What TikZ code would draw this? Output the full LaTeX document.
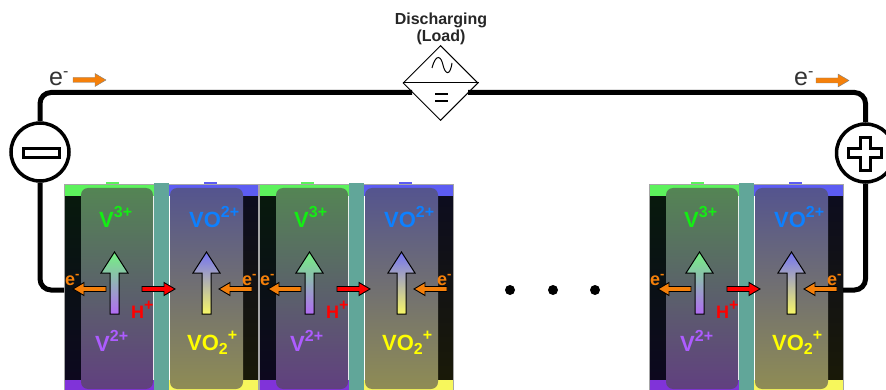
\documentclass[tikz,border=0pt]{standalone}
\usepackage{fontspec}
\setmainfont{Liberation Sans}
\usetikzlibrary{shapes.geometric}

\definecolor{eorange}{rgb}{0.96,0.5,0.04}
\definecolor{vthree}{rgb}{0.08,0.93,0.08}
\definecolor{vtwo}{rgb}{0.68,0.36,1}
\definecolor{voblue}{rgb}{0.05,0.5,1}
\definecolor{voyellow}{rgb}{1,1,0}
\definecolor{membrane}{rgb}{0.38,0.65,0.6}
\definecolor{stripgreen}{rgb}{0.36,0.95,0.36}
\definecolor{stripblue}{rgb}{0.36,0.36,0.95}
\definecolor{strippurple}{rgb}{0.5,0.2,0.85}
\definecolor{stripyellow}{rgb}{0.97,0.97,0.36}

\newcommand{\ionsup}[1]{\raisebox{0.42em}{\fontsize{16}{16}\selectfont #1}}
\newcommand{\flatarrow}[4]{\draw[#1, shift={(#2,#3)}, xscale=#4] (0,0) -- (-11,-6.5) -- (-11,-2.5) -- (-33,-2.5) -- (-33,2.5) -- (-11,2.5) -- (-11,6.5) -- cycle;}
\newcommand{\riserarrow}[2]{\shade[#1, shift={(#2,0)}] (0,252) -- (13.5,273) -- (4.5,273) -- (4.5,314) -- (-4.5,314) -- (-4.5,273) -- (-13.5,273) -- cycle;}

\begin{document}
\begin{tikzpicture}[x=1pt, y=-1pt,
    wire style/.style={draw=black, line width=5pt, rounded corners=11pt},
    pole style/.style={circle, draw=black, fill=white, line width=3.5pt, minimum size=58pt, inner sep=0pt},
    sign style/.style={draw=black, fill=white, line width=3pt},
    ion style/.style={anchor=base west, inner sep=0pt, font=\fontsize{22}{22}\selectfont\bfseries},
    charge style/.style={anchor=base west, inner sep=0pt, text=eorange, font=\fontsize{18}{18}\selectfont\bfseries},
    electron style/.style={draw=black, fill=eorange, line width=0.9pt},
    wire electron style/.style={draw=gray, fill=eorange, line width=0.4pt},
    proton style/.style={draw=black, fill=red, line width=0.9pt},
    riser style/.style={draw=black, line width=1pt}]

    \useasboundingbox (0,0) rectangle (886,390);
    \clip (0,0) rectangle (886,390);

    % stack of cells
    \foreach \cellx/\cellname in {0/a,195/b,585/c} {
    \begin{scope}[xshift=\cellx pt]
        \shade[top color={rgb,1:red,0.03;green,0.1;blue,0.05}, bottom color={rgb,1:red,0.05;green,0.03;blue,0.12}] (64,196) rectangle (100,380);
        \shade[top color={rgb,1:red,0.05;green,0.05;blue,0.12}, bottom color={rgb,1:red,0.1;green,0.1;blue,0.03}] (225,196) rectangle (258,380);

        \fill[stripgreen] (64,184) rectangle (160,196);
        \fill[stripgreen] (106,182) rectangle (119,186);
        \fill[stripblue] (165,184) rectangle (258,196);
        \fill[stripblue] (204,182) rectangle (217,186);
        \fill[strippurple] (64,380) rectangle (160,390);
        \fill[stripyellow] (165,380) rectangle (258,390);
        \draw[gray!70, line width=0.6pt] (64,390) -- (64,184) -- (258,184) -- (258,390);

        \shade[rounded corners=7pt, top color={rgb,1:red,0.33;green,0.52;blue,0.33}, middle color={rgb,1:red,0.36;green,0.42;blue,0.44}, bottom color={rgb,1:red,0.38;green,0.25;blue,0.5}] (81,188) rectangle (153,389);
        \shade[rounded corners=7pt, top color={rgb,1:red,0.33;green,0.33;blue,0.56}, middle color={rgb,1:red,0.43;green,0.43;blue,0.47}, bottom color={rgb,1:red,0.56;green,0.55;blue,0.33}] (170,188) rectangle (243,389);
        \fill[membrane] (154,183) rectangle (169,390);

        \riserarrow{riser style, top color={rgb,1:red,0.45;green,0.95;blue,0.5}, bottom color={rgb,1:red,0.7;green,0.42;blue,0.96}}{114.5}
        \riserarrow{riser style, top color={rgb,1:red,0.45;green,0.45;blue,0.95}, bottom color={rgb,1:red,0.97;green,0.97;blue,0.4}}{206.5}

        \flatarrow{electron style}{73}{289}{-1}
        \flatarrow{electron style}{219}{289}{-1}
        \flatarrow{proton style}{175}{289}{1}

        \node[ion style, text=vthree] (vthree\cellname) at (99,227) {V\ionsup{3+}};
        \node[ion style, text=vtwo] (vtwo\cellname) at (95,351) {V\ionsup{2+}};
        \node[ion style, text=voblue] (vob\cellname) at (189,227) {VO\ionsup{2+}};
        \node[ion style, text=voyellow] (voy\cellname) at (187,350) {VO\raisebox{-0.2em}{\fontsize{16}{16}\selectfont 2}\ionsup{+}};
        \node[charge style, text=red] (hplus\cellname) at (131,318) {H\raisebox{0.4em}{\fontsize{16}{16}\selectfont +}};
        \node[charge style] (eleft\cellname) at (65,285) {e\raisebox{0.35em}{\fontsize{13}{13}\selectfont -}};
        \node[charge style] (eright\cellname) at (242,285) {e\raisebox{0.35em}{\fontsize{13}{13}\selectfont -}};
    \end{scope}
    }

    % circuit
    \coordinate (wireLoadL) at (412,92.5);
    \coordinate (wireLoadR) at (468,92.5);
    \coordinate (wireCellL) at (64,290);
    \coordinate (wireCellR) at (843,290);

    \node[pole style] (minus) at (40,152) {};
    \node[pole style] (plus) at (865.5,153) {};
    \node[diamond, draw=black, fill=white, line width=1pt, aspect=1, minimum size=75pt, inner sep=0pt] (load) at (440.5,83) {};

    \draw[wire style] (minus.north) |- (wireLoadL);
    \draw[wire style] (plus.north) |- (wireLoadR);
    \draw[wire style] (minus.south) |- (wireCellL);
    \draw[wire style] (plus.south) |- (wireCellR);

    \draw[line width=1pt] (load.west) -- (load.east);
    \draw[line width=1pt] (432,68) .. controls (436,53) and (441,56) .. (443,65) .. controls (445,74) and (450,77) .. (452,63);
    \draw[line width=2.5pt] (435,94) -- (448,94);
    \draw[line width=2.5pt] (435,101) -- (448,101);

    \draw[sign style] (23.5,148.5) rectangle (59.5,157.5);
    \draw[sign style] (860.5,137.5) -- (870,137.5) -- (870,149) -- (881.5,149) -- (881.5,158) -- (870,158) -- (870,170.5) -- (860.5,170.5) -- (860.5,158) -- (848.5,158) -- (848.5,149) -- (860.5,149) -- cycle;

    \node[anchor=south, align=center, inner sep=0pt, font=\fontsize{16}{17}\selectfont\bfseries, text=black!85] (mode) at (441,45) {Discharging\\(Load)};

    \node[anchor=base west, inner sep=0pt, font=\fontsize{25}{25}\selectfont, text=black!80] (ewireL) at (49,86) {e\raisebox{0.38em}{\fontsize{16}{16}\selectfont -}};
    \node[anchor=base west, inner sep=0pt, font=\fontsize{25}{25}\selectfont, text=black!80] (ewireR) at (794,86) {e\raisebox{0.38em}{\fontsize{16}{16}\selectfont -}};
    \flatarrow{wire electron style}{106}{80}{1}
    \flatarrow{wire electron style}{849}{80.5}{1}

    % dots between the cells
    \foreach \dotx in {510,553,595} {
        \fill[black] (\dotx,290) circle (5pt);
    }
\end{tikzpicture}
\end{document}
